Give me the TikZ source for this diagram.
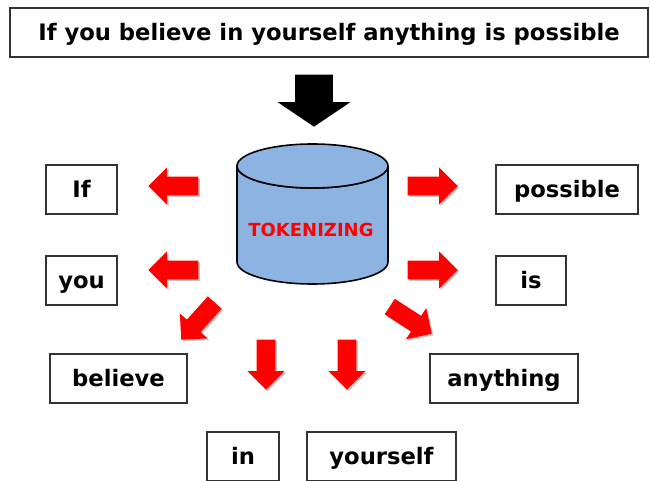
\documentclass[tikz,border=0pt]{standalone}
\usepackage{fontspec}
\setmainfont{DejaVu Sans}
\usetikzlibrary{shapes.arrows,shadows}
\definecolor{cylblue}{RGB}{141,179,226}
\tikzset{
  wordbox/.style={draw=black!80, line width=1pt, fill=white, minimum height=36.75pt, inner sep=0pt, text height=12.4pt, text depth=0pt, font=\fontsize{17}{19}\selectfont\bfseries},
  redarrow/.style={single arrow, fill=red, inner sep=6.75pt, single arrow head extend=7pt, minimum height=37.5pt, anchor=tip, drop shadow={shadow xshift=1.2pt, shadow yshift=-1.2pt, fill=black!40, opacity=0.6}},
  blackarrow/.style={single arrow, fill=black, inner sep=13.9pt, single arrow head extend=13.1pt, single arrow tip angle=112, minimum height=39pt, anchor=tip}
}
\begin{document}
\begin{tikzpicture}[x=0.75pt, y=-0.75pt]
\useasboundingbox (0,0) rectangle (650,481);
\node[wordbox, minimum width=478.5pt] (sentence) at (329,32.5) {If you believe in yourself anything is possible};
\node[blackarrow, rotate=-90] (down) at (314,127) {};
\fill[cylblue, draw=black, line width=1.2pt] (237,166) -- (237,262) arc [start angle=180, end angle=0, x radius=75.5, y radius=22] -- (388,166) arc [start angle=0, end angle=180, x radius=75.5, y radius=22] -- cycle;
\draw[fill=cylblue, line width=1.2pt] (312.5,166) ellipse [x radius=75.5, y radius=22];
\node[text=red, font=\fontsize{13.5}{15}\selectfont\bfseries] (tok) at (311,230) {TOKENIZING};
\node[redarrow, rotate=180] (a1) at (148,186) {};
\node[redarrow, rotate=180] (a2) at (148,270) {};
\node[redarrow] (a3) at (458,186) {};
\node[redarrow] (a4) at (458,270) {};
\node[redarrow, rotate=228] (a5) at (181,340) {};
\node[redarrow, rotate=-33] (a6) at (432,334) {};
\node[redarrow, rotate=-90] (a7) at (266,390) {};
\node[redarrow, rotate=-90] (a8) at (347,390) {};
\node[wordbox, minimum width=53.25pt] (if) at (81.5,189.5) {If};
\node[wordbox, minimum width=106.5pt] (possible) at (567,189.5) {possible};
\node[wordbox, minimum width=53.25pt] (you) at (81.5,280.5) {you};
\node[wordbox, minimum width=52.5pt] (is) at (531,280.5) {is};
\node[wordbox, minimum width=102.75pt] (believe) at (118.5,378.5) {believe};
\node[wordbox, minimum width=111pt] (anything) at (504,378.5) {anything};
\node[wordbox, minimum width=54pt] (in) at (243,456.5) {in};
\node[wordbox, minimum width=111.75pt] (yourself) at (381.5,456.5) {yourself};
\end{tikzpicture}
\end{document}
